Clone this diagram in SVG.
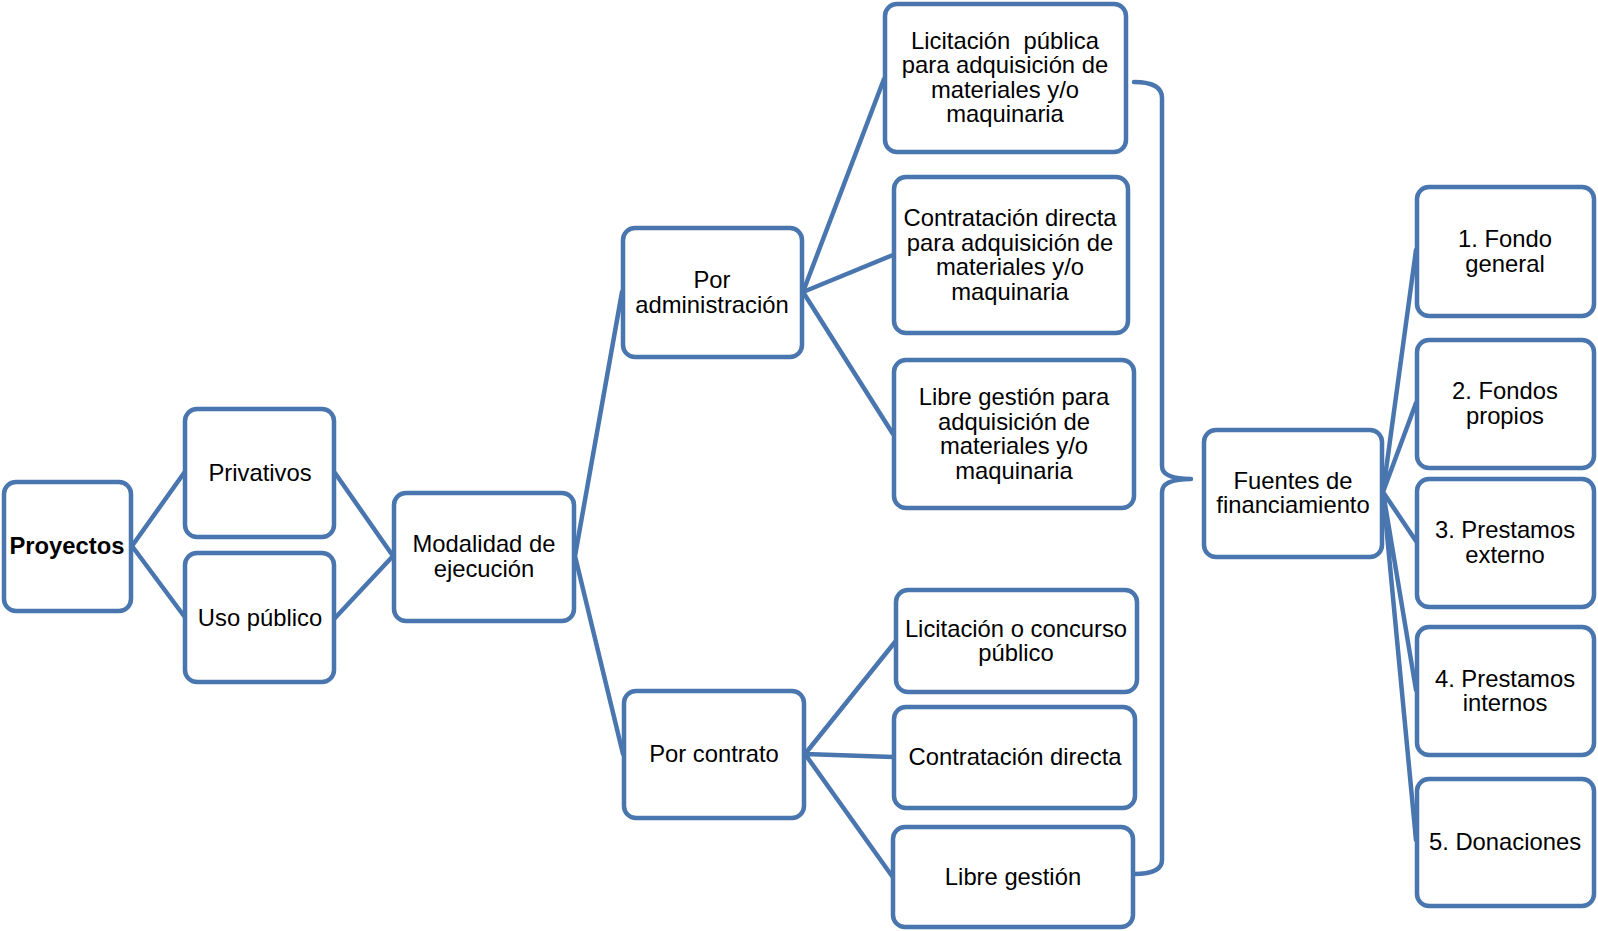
<svg xmlns="http://www.w3.org/2000/svg" width="1598" height="931" viewBox="0 0 1598 931">
<style>
.box{fill:#fff;stroke:#4A76AF;stroke-width:4.5}
.ln{fill:none;stroke:#4A76AF;stroke-width:4.5;stroke-linecap:round;stroke-linejoin:round}
text{font-family:"Liberation Sans",Arial,sans-serif;font-size:23.8px;fill:#000;text-anchor:middle;white-space:pre}
.b{font-weight:bold}
</style>
<rect width="1598" height="931" fill="#fff"/>
<g id="connectors">
<path class="ln" d="M132,546 L184,473 M132,546 L184,616"/>
<path class="ln" d="M335,473 L393,556 M335,618 L393,556"/>
<path class="ln" d="M575,556 L622,292 M575,556 L623,754"/>
<path class="ln" d="M803,292 L884,79 M803,292 L893,255 M803,292 L893,434"/>
<path class="ln" d="M805,754 L895,642 M805,754 L893,757 M805,754 L892,876"/>
<path class="ln" d="M1383,492 L1416,250 M1383,492 L1416,403 M1383,492 L1416,541 M1383,492 L1416,690 M1383,492 L1416,840"/>
<path class="ln" d="M1134,82 Q1162,82 1162,98 L1162,466 Q1162,479 1191,479 Q1162,479 1162,492 L1162,860 Q1162,874 1134,874"/>
</g>
<g id="proyectos"><rect class="box" x="4" y="482" width="127" height="129" rx="12"/><text class="b" x="67" y="554">Proyectos</text></g>
<g id="privativos"><rect class="box" x="185" y="409" width="149" height="128" rx="12"/><text x="260" y="481">Privativos</text></g>
<g id="uso-publico"><rect class="box" x="185" y="553" width="149" height="129" rx="12"/><text x="260" y="626">Uso público</text></g>
<g id="modalidad"><rect class="box" x="394" y="493" width="180" height="128" rx="12"/><text x="484" y="552">Modalidad de</text><text x="484" y="577">ejecución</text></g>
<g id="por-administracion"><rect class="box" x="623" y="228" width="179" height="129" rx="12"/><text x="712" y="288">Por</text><text x="712" y="313">administración</text></g>
<g id="por-contrato"><rect class="box" x="624" y="691" width="180" height="127" rx="12"/><text x="714" y="762">Por contrato</text></g>
<g id="licitacion-publica"><rect class="box" x="885" y="4" width="241" height="148" rx="12"/><text x="1005" y="49" xml:space="preserve">Licitación  pública</text><text x="1005" y="73">para adquisición de</text><text x="1005" y="98">materiales y/o</text><text x="1005" y="122">maquinaria</text></g>
<g id="contratacion-directa-adm"><rect class="box" x="894" y="177" width="234" height="156" rx="12"/><text x="1010" y="226">Contratación directa</text><text x="1010" y="251">para adquisición de</text><text x="1010" y="275">materiales y/o</text><text x="1010" y="300">maquinaria</text></g>
<g id="libre-gestion-adm"><rect class="box" x="894" y="360" width="240" height="148" rx="12"/><text x="1014" y="405">Libre gestión para</text><text x="1014" y="430">adquisición de</text><text x="1014" y="454">materiales y/o</text><text x="1014" y="479">maquinaria</text></g>
<g id="licitacion-concurso"><rect class="box" x="896" y="590" width="241" height="102" rx="12"/><text x="1016" y="637">Licitación o concurso</text><text x="1016" y="661">público</text></g>
<g id="contratacion-directa"><rect class="box" x="894" y="707" width="241" height="101" rx="12"/><text x="1015" y="765">Contratación directa</text></g>
<g id="libre-gestion"><rect class="box" x="893" y="827" width="240" height="100" rx="12"/><text x="1013" y="885">Libre gestión</text></g>
<g id="fuentes"><rect class="box" x="1204" y="430" width="178" height="127" rx="12"/><text x="1293" y="489">Fuentes de</text><text x="1293" y="513">financiamiento</text></g>
<g id="fondo-general"><rect class="box" x="1417" y="187" width="177" height="129" rx="12"/><text x="1505" y="247">1. Fondo</text><text x="1505" y="272">general</text></g>
<g id="fondos-propios"><rect class="box" x="1417" y="340" width="177" height="128" rx="12"/><text x="1505" y="399">2. Fondos</text><text x="1505" y="424">propios</text></g>
<g id="prestamos-externo"><rect class="box" x="1417" y="479" width="177" height="128" rx="12"/><text x="1505" y="538">3. Prestamos</text><text x="1505" y="563">externo</text></g>
<g id="prestamos-internos"><rect class="box" x="1417" y="627" width="177" height="128" rx="12"/><text x="1505" y="687">4. Prestamos</text><text x="1505" y="711">internos</text></g>
<g id="donaciones"><rect class="box" x="1417" y="779" width="177" height="127" rx="12"/><text x="1505" y="850">5. Donaciones</text></g>
</svg>
